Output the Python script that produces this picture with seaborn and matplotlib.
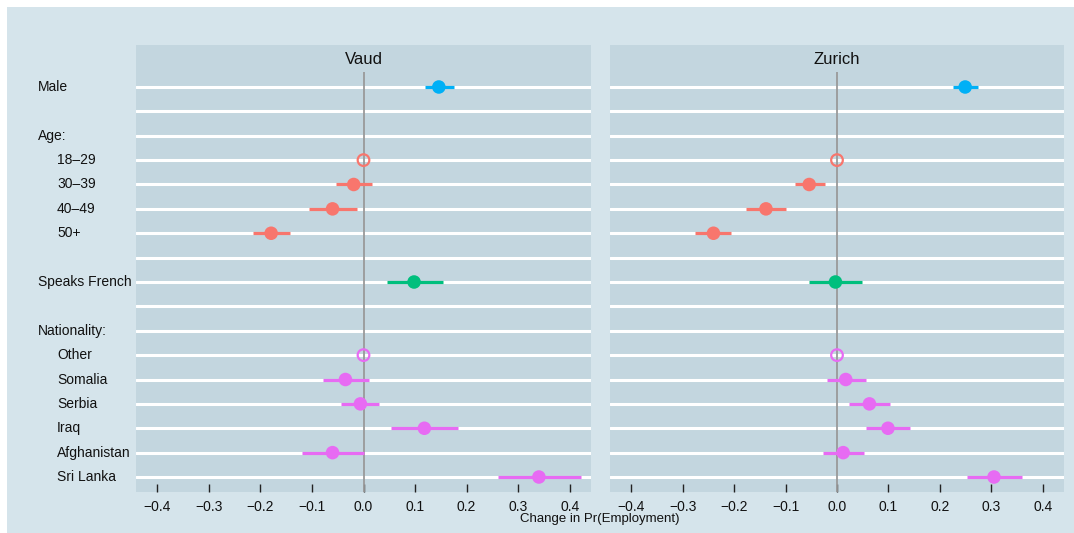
import numpy as np
import pandas as pd
import matplotlib
matplotlib.use("Agg")
import matplotlib.pyplot as plt
import matplotlib.transforms as mtransforms
from matplotlib.patches import Rectangle
import seaborn as sns

# ---------------- data ----------------
row_labels = ["Male", "", "Age:", "18–29", "30–39", "40–49", "50+", "",
              "Speaks French", "", "Nationality:", "Other", "Somalia", "Serbia",
              "Iraq", "Afghanistan", "Sri Lanka"]
row_indent = [False, False, False, True, True, True, True, False,
              False, False, False, True, True, True, True, True, True]

terms = ["Male", "18–29", "30–39", "40–49", "50+", "Speaks French",
         "Other", "Somalia", "Serbia", "Iraq", "Afghanistan", "Sri Lanka"]
term_group = ["Gender", "Age", "Age", "Age", "Age", "Language",
              "Nationality", "Nationality", "Nationality", "Nationality",
              "Nationality", "Nationality"]
term_reference = [False, True, False, False, False, False,
                  True, False, False, False, False, False]

vaud_est = [0.146, 0.0, -0.019, -0.060, -0.179, 0.098,
            0.0, -0.035, -0.006, 0.118, -0.060, 0.340]
vaud_lo = [0.119, np.nan, -0.053, -0.105, -0.214, 0.045,
           np.nan, -0.078, -0.044, 0.053, -0.119, 0.260]
vaud_hi = [0.176, np.nan, 0.016, -0.013, -0.142, 0.154,
           np.nan, 0.010, 0.031, 0.184, 0.000, 0.421]

zurich_est = [0.249, 0.0, -0.054, -0.138, -0.240, -0.003,
              0.0, 0.017, 0.063, 0.099, 0.012, 0.305]
zurich_lo = [0.226, np.nan, -0.082, -0.176, -0.275, -0.054,
             np.nan, -0.020, 0.024, 0.057, -0.028, 0.253]
zurich_hi = [0.273, np.nan, -0.024, -0.099, -0.205, 0.049,
             np.nan, 0.056, 0.103, 0.142, 0.052, 0.359]

cantons = ["Vaud", "Zurich"]
x_ticks = [-0.4, -0.3, -0.2, -0.1, 0.0, 0.1, 0.2, 0.3, 0.4]
x_label = "Change in Pr(Employment)"

group_colors = {"Gender": "#00B0F6", "Age": "#F8766D",
                "Language": "#00BF7D", "Nationality": "#E76BF3"}

frames = []
for canton, est, lo, hi in [("Vaud", vaud_est, vaud_lo, vaud_hi),
                            ("Zurich", zurich_est, zurich_lo, zurich_hi)]:
    frames.append(pd.DataFrame({
        "canton": canton, "term": terms, "group": term_group,
        "reference": term_reference, "est": est, "lo": lo, "hi": hi,
        "row": [row_labels.index(t) for t in terms]}))
df = pd.concat(frames, ignore_index=True)

# ---------------- style ----------------
FIG_BG = "#d5e4eb"
PANEL_BG = "#c3d6df"
sns.set_theme(style="white")
plt.rcParams["font.family"] = ["Liberation Sans", "DejaVu Sans"]

W, H = 1074, 533
fig = plt.figure(figsize=(W / 100, H / 100), dpi=100, facecolor=FIG_BG)
# thin white margin along the top and left edges only
fig.patches.append(Rectangle((0, 1 - 7 / H), 1, 7 / H, transform=fig.transFigure,
                             facecolor="white", edgecolor="none", zorder=0))
fig.patches.append(Rectangle((0, 0), 7 / W, 1, transform=fig.transFigure,
                             facecolor="white", edgecolor="none", zorder=0))

panel_px = [(136, 591), (610, 1064)]
data_top, data_bot, strip_top = 72, 492, 45

axes = []
for (x0, x1), canton in zip(panel_px, cantons):
    ax = fig.add_axes([x0 / W, 1 - data_bot / H, (x1 - x0) / W, (data_bot - data_top) / H])
    axes.append(ax)
    ax.set_facecolor(PANEL_BG)
    for s in ax.spines.values():
        s.set_visible(False)
    # strip
    fig.patches.append(Rectangle((x0 / W, 1 - data_top / H), (x1 - x0) / W,
                                 (data_top - strip_top) / H, transform=fig.transFigure,
                                 facecolor=PANEL_BG, edgecolor="none", zorder=0))
    fig.text((x0 + x1) / 2 / W, 1 - 59 / H, canton, ha="center", va="center",
             fontsize=12, color="#111111")

    sub = df[df["canton"] == canton]
    ax.axvline(0, color="#9a9a9a", lw=1.3, zorder=2)
    ax.hlines(sub["row"], sub["lo"], sub["hi"],
              colors=[group_colors[g] for g in sub["group"]], lw=2.3, zorder=3)
    filled = sub[~sub["reference"]]
    sns.scatterplot(data=filled, x="est", y="row", hue="group", palette=group_colors,
                    s=95, linewidth=0, legend=False, ax=ax, zorder=4)
    hollow = sub[sub["reference"]]
    ax.scatter(hollow["est"], hollow["row"], s=70, facecolors="none",
               edgecolors=[group_colors[g] for g in hollow["group"]],
               linewidths=1.6, zorder=4)

    ax.set_xlim(-0.441, 0.441)
    ax.set_ylim(len(row_labels) - 1 + 0.615, -0.615)
    ax.set_yticks(range(len(row_labels)))
    ax.set_yticklabels([])
    ax.yaxis.grid(True, color="white", lw=2.2, zorder=1)
    ax.xaxis.grid(False)
    ax.set_axisbelow(True)
    ax.tick_params(axis="y", length=0)
    ax.set_xticks(x_ticks)
    ax.set_xticklabels([f"{t:.1f}".replace("-", "−") for t in x_ticks])
    ax.tick_params(axis="x", direction="in", length=6, width=1.0, color="#222222",
                   pad=6, labelsize=10, labelcolor="#111111", bottom=True)
    ax.set_xlabel("")
    ax.set_ylabel("")

# row labels at left
trans = mtransforms.blended_transform_factory(fig.transFigure, axes[0].transData)
for i, (lab, ind) in enumerate(zip(row_labels, row_indent)):
    if lab:
        fig.text((57 if ind else 38) / W, 0, lab, transform=trans, ha="left",
                 va="center", fontsize=10, color="#111111").set_y(i)

fig.text(600 / W, 1 - 519 / H, x_label, ha="center", va="center",
         fontsize=9.5, color="#111111")

fig.savefig("out.png", dpi=100, facecolor=FIG_BG)
